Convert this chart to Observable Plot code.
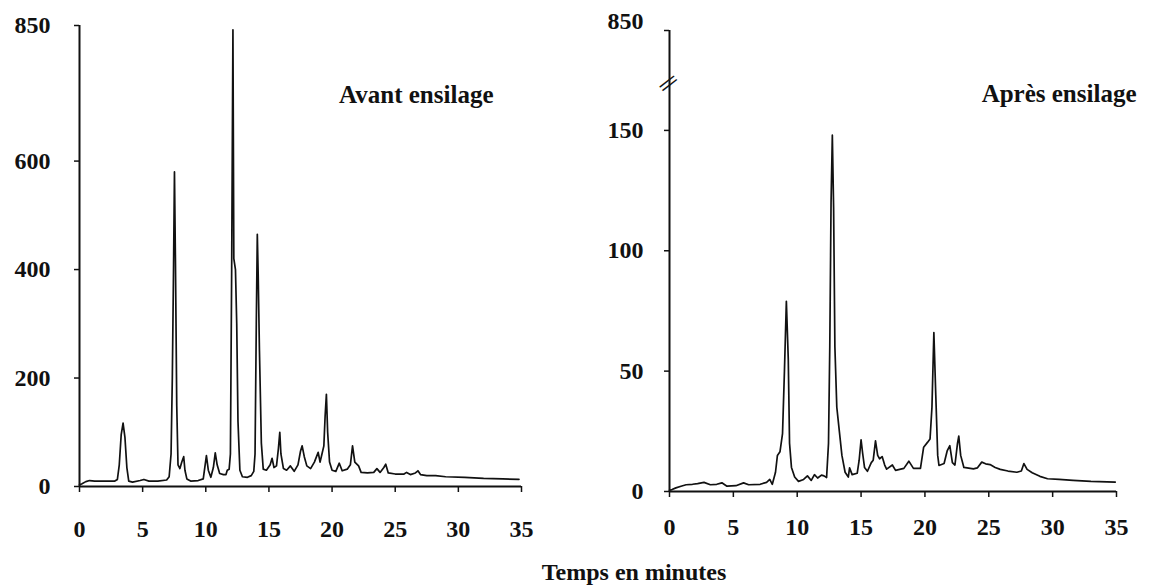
<!DOCTYPE html>
<html>
<head>
<meta charset="utf-8">
<script src="https://cdn.jsdelivr.net/npm/d3@7"></script>
<script src="https://cdn.jsdelivr.net/npm/@observablehq/plot@0.6"></script>
<style>
  body { margin: 0; background: #fff; }
  #wrap { position: relative; width: 1151px; height: 588px; background: #fff; }
  #left { position: absolute; left: 0; top: 0; }
  #right { position: absolute; left: 575px; top: 0; }
  #xtitle { position: absolute; left: 634px; top: 560px; transform: translateX(-50%);
    font-family: "Liberation Serif", serif; font-weight: bold; font-size: 24px; line-height: 24px;
    color: #111; white-space: nowrap; }
</style>
</head>
<body>
<div id="wrap">
  <div id="left"></div>
  <div id="right"></div>
  <div id="xtitle">Temps en minutes</div>
</div>
<script>
// ---- Data ----
const xTicks = [0, 5, 10, 15, 20, 25, 30, 35];
const leftYTicks = [0, 200, 400, 600, 850];
const rightYTicks = [0, 50, 100, 150];
const rightTopTick = [191.5];       // top of broken axis
const rightTopLabel = "850";
const rightBreak = [170];           // position of the axis break mark

const leftLabel = "Avant ensilage";
const rightLabel = "Après ensilage";

const leftTime = [0, 0.2, 0.5, 0.8, 1.2, 2.0, 2.8, 3.0, 3.15, 3.3, 3.45, 3.6, 3.75, 3.9, 4.2, 4.8, 5.1, 5.5, 6.2, 6.9,
  7.1, 7.25, 7.35, 7.45, 7.52, 7.6, 7.7, 7.8, 7.95, 8.1, 8.25, 8.35, 8.5, 8.8, 9.4, 9.8, 9.95, 10.05, 10.2, 10.4,
  10.6, 10.75, 10.9, 11.1, 11.4, 11.6, 11.7, 11.85, 11.95, 12.05, 12.15, 12.22, 12.35, 12.45, 12.55, 12.7, 12.9, 13.3, 13.6, 13.8,
  13.9, 14.0, 14.08, 14.15, 14.25, 14.4, 14.55, 14.8, 15.1, 15.25, 15.4, 15.6, 15.75, 15.86, 15.95, 16.15, 16.4, 16.7, 17.0, 17.3,
  17.5, 17.63, 17.8, 18.0, 18.3, 18.6, 18.9, 19.05, 19.2, 19.35, 19.45, 19.55, 19.65, 19.8, 20.0, 20.3, 20.57, 20.8, 21.2, 21.45,
  21.62, 21.8, 22.1, 22.3, 22.8, 23.3, 23.55, 23.8, 24.1, 24.25, 24.45, 25.0, 25.7, 25.9, 26.2, 26.6, 26.8, 27.0, 27.5, 28.2,
  29.0, 30.5, 32.0, 33.5, 34.8];
const leftSignal = [3, 5, 9, 11, 10, 10, 10, 13, 40, 95, 117, 90, 35, 10, 8, 11, 13, 10, 10, 12,
  18, 60, 200, 410, 580, 410, 150, 40, 33, 45, 55, 30, 14, 10, 11, 14, 40, 57, 30, 17,
  35, 62, 40, 24, 22, 22, 30, 32, 60, 400, 842, 420, 400, 300, 120, 30, 18, 17, 20, 28,
  60, 300, 465, 390, 250, 80, 32, 30, 40, 52, 35, 38, 70, 100, 60, 33, 30, 38, 28, 40,
  65, 75, 55, 38, 33, 45, 63, 45, 60, 75, 130, 170, 100, 45, 30, 28, 43, 29, 32, 40,
  75, 45, 38, 26, 25, 26, 33, 26, 35, 41, 25, 23, 23, 26, 22, 25, 29, 22, 20, 20,
  18, 17, 15, 14, 13];

const rightTime = [0, 0.2, 0.5, 0.9, 1.3, 1.8, 2.2, 2.7, 3.2, 3.7, 4.1, 4.5, 5.2, 5.8, 6.2, 7.1, 7.6, 7.85, 8.05, 8.3,
  8.45, 8.65, 8.85, 9.0, 9.15, 9.3, 9.4, 9.55, 9.8, 10.1, 10.5, 10.8, 11.1, 11.35, 11.6, 11.9, 12.1, 12.3, 12.45, 12.55,
  12.65, 12.75, 12.85, 12.95, 13.1, 13.3, 13.5, 13.75, 14.0, 14.1, 14.3, 14.7, 14.85, 15.0, 15.12, 15.27, 15.5, 15.8, 15.95, 16.13,
  16.3, 16.45, 16.65, 16.85, 17.0, 17.45, 17.7, 18.35, 18.74, 19.1, 19.65, 19.9, 20.2, 20.4, 20.55, 20.7, 20.85, 21.0, 21.1, 21.5,
  21.75, 21.95, 22.15, 22.35, 22.55, 22.65, 22.8, 23.05, 23.8, 24.1, 24.45, 24.75, 25.1, 25.5, 25.9, 26.5, 27.2, 27.55, 27.75, 28.0,
  28.4, 29.0, 29.6, 30.5, 31.6, 33.0, 34.9];
const rightSignal = [0.5, 0.8, 1.5, 2.2, 2.8, 3.0, 3.3, 3.8, 2.8, 3.0, 3.6, 2.2, 2.4, 3.6, 2.8, 3.0, 3.8, 5.0, 3.0, 8,
  15, 16.5, 24, 50, 79, 55, 20, 10, 6, 4.2, 5, 6.5, 4.6, 7, 5.6, 6.8, 6.5, 5.8, 20, 60,
  120, 148, 118, 60, 35, 25, 15, 8, 6, 9.8, 7, 7.6, 13, 21.5, 16, 10, 8.4, 12, 13, 21,
  15, 13.6, 14.5, 11, 9.3, 11, 8.8, 9.6, 12.6, 9.6, 9.6, 18.4, 20.4, 21.8, 35, 66, 40, 15, 10.8, 11.6,
  17, 19, 12, 11, 20, 23, 15, 10, 9.4, 9.8, 12.2, 11.5, 11.2, 10, 9.2, 8.5, 8, 8.5, 11.6, 9.2,
  7.8, 6.3, 5.3, 5, 4.6, 4.2, 3.9];

const leftData = leftTime.map((t, i) => ({t, v: leftSignal[i]}));
const rightData = rightTime.map((t, i) => ({t, v: rightSignal[i]}));

const ink = "#111";
const font = "Liberation Serif";
const baseStyle = {fontFamily: font, fontSize: "24px", fontWeight: "bold", color: ink, background: "white", overflow: "visible"};

const leftPlot = Plot.plot({
  width: 575, height: 548,
  marginLeft: 79, marginRight: 54, marginTop: 25, marginBottom: 62,
  x: {domain: [0, 35]},
  y: {domain: [0, 850]},
  style: baseStyle,
  marks: [
    Plot.ruleX([0], {stroke: ink, strokeWidth: 2}),
    Plot.ruleY([0], {stroke: ink, strokeWidth: 2}),
    Plot.axisX({ticks: xTicks, tickSize: 6, tickPadding: 27, label: null, fontSize: 24, fontWeight: "bold", stroke: ink, strokeWidth: 1.5}),
    Plot.axisY({ticks: leftYTicks, tickSize: 5, tickPadding: 24, label: null, fontSize: 24, fontWeight: "bold", stroke: ink, strokeWidth: 1.5}),
    Plot.line(leftData, {x: "t", y: "v", stroke: ink, strokeWidth: 1.7}),
    Plot.text([leftLabel], {frameAnchor: "top-right", dx: -28, dy: 77, lineAnchor: "bottom", fontSize: 25, fontWeight: "bold", fill: ink})
  ]
});
document.getElementById("left").append(leftPlot);

const rightPlot = Plot.plot({
  width: 576, height: 548,
  marginLeft: 94, marginRight: 35, marginTop: 30, marginBottom: 57,
  x: {domain: [0, 35]},
  y: {domain: [0, rightTopTick[0]]},
  style: baseStyle,
  marks: [
    Plot.ruleX([0], {stroke: ink, strokeWidth: 2}),
    Plot.ruleY([0], {stroke: ink, strokeWidth: 2}),
    Plot.axisX({ticks: xTicks, tickSize: 6, tickPadding: 20, label: null, fontSize: 24, fontWeight: "bold", stroke: ink, strokeWidth: 1.5}),
    Plot.axisY({ticks: rightYTicks, tickSize: 5, tickPadding: 21, label: null, fontSize: 24, fontWeight: "bold", stroke: ink, strokeWidth: 1.5}),
    Plot.axisY({ticks: rightTopTick, tickSize: 5, tickFormat: () => "", label: null, stroke: ink, strokeWidth: 1.5}),
    Plot.axisY({ticks: rightTopTick, tickSize: 0, tickPadding: 26, tickFormat: () => rightTopLabel, label: null, fontSize: 24, fontWeight: "bold", dy: -9}),
    Plot.text(rightBreak, {x: 0, y: d => d, text: () => "||", rotate: 52, fontSize: 20, fontWeight: "bold", fill: ink}),
    Plot.line(rightData, {x: "t", y: "v", stroke: ink, strokeWidth: 1.7}),
    Plot.text([rightLabel], {frameAnchor: "top-right", dx: 20, dy: 71, lineAnchor: "bottom", fontSize: 25, fontWeight: "bold", fill: ink})
  ]
});
document.getElementById("right").append(rightPlot);
</script>
</body>
</html>
